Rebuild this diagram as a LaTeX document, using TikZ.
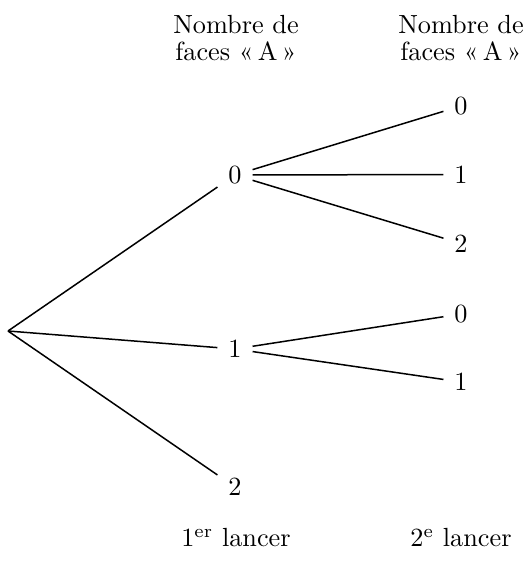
\documentclass[tikz,border=0pt]{standalone}
\begin{document}
\begin{tikzpicture}[x=0.4pt,y=-0.4pt,
  font=\fontsize{10.5}{10.6}\selectfont,
  val/.style={inner xsep=4.2pt,inner ysep=3pt},
  lab/.style={align=center},
  br/.style={line width=0.6pt}]
\useasboundingbox (0,0) rectangle (526,572);
\coordinate (r) at (8,331);
\node[val] (a0) at (235,175) {0};
\node[val] (a1) at (235,349) {1};
\node[val] (a2) at (235,487) {2};
\node[val] (b0) at (461,106) {0};
\node[val] (b1) at (461,174.5) {1};
\node[val] (b2) at (461,243.5) {2};
\node[val] (c0) at (461,314) {0};
\node[val] (c1) at (461,382) {1};
\draw[br] (r) -- (a0);
\draw[br] (r) -- (a1);
\draw[br] (r) -- (a2);
\draw[br] (a0) -- (b0);
\draw[br] (a0) -- (b1);
\draw[br] (a0) -- (b2);
\draw[br] (a1) -- (c0);
\draw[br] (a1) -- (c1);
\node[lab] (t1) at (236,38) {Nombre de\\faces «\,A\,»};
\node[lab] (t2) at (461,38) {Nombre de\\faces «\,A\,»};
\node[lab] (u1) at (236,538) {1\textsuperscript{er} lancer};
\node[lab] (u2) at (461,538) {2\textsuperscript{e} lancer};
\end{tikzpicture}
\end{document}
